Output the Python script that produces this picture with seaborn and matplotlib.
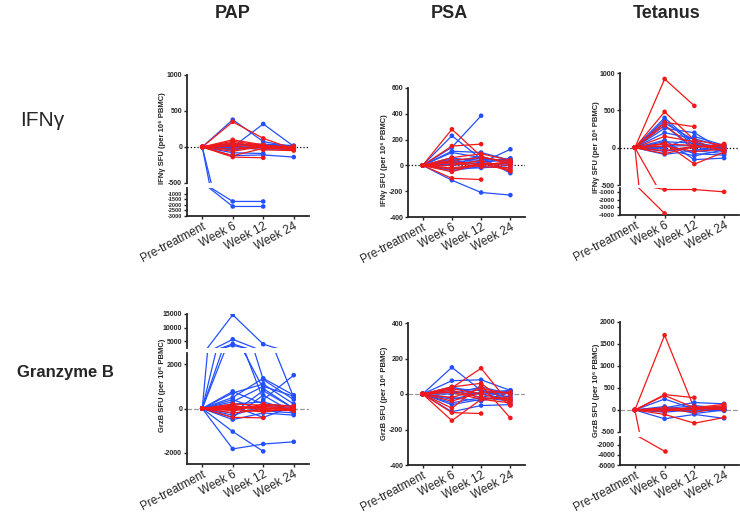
import numpy as np
import pandas as pd
import seaborn as sns
import matplotlib.pyplot as plt

sns.set_theme(style="ticks")
plt.rcParams["font.family"] = ["Liberation Sans", "DejaVu Sans"]

nan = np.nan
times = ["Pre-treatment", "Week 6", "Week 12", "Week 24"]
colors = {"Arm 1": "#F21818", "Arm 2": "#2350FF"}

# values per patient: pre-treatment, week 6, week 12, week 24 (change from baseline)
pap_ifn_red = [[0, 350, 120, -30], [0, 100, 30, -20], [0, 80, 20, -10], [0, 60, 10, -40],
               [0, 40, -10, -20], [0, 20, 20, 0], [0, -60, 10, -30], [0, -140, -150, nan],
               [0, -120, -20, -30], [0, -30, 0, 10], [0, 10, -40, -50]]
pap_ifn_blue = [[0, 380, 75, 0], [0, 0, 320, 10], [0, -1700, -1700, nan], [0, -2150, -2150, nan],
                [0, -120, -110, -140], [0, -80, -90, nan], [0, 30, 40, 20], [0, -20, 20, -10],
                [0, 10, -10, 0], [0, -40, 10, -20], [0, 50, 0, 10], [0, -10, -30, -30],
                [0, 20, 30, 5]]

psa_ifn_red = [[0, 280, 70, 10], [0, 150, 165, nan], [0, -100, -110, nan], [0, -50, 20, -45],
               [0, 40, 60, 30], [0, 20, -10, -20], [0, -20, 10, 20], [0, 0, 40, -40],
               [0, 60, 90, 40], [0, -30, 0, 30], [0, 30, 10, 0]]
psa_ifn_blue = [[0, 230, 50, 30], [0, 140, 385, nan], [0, 110, 100, 40], [0, 100, 60, -60],
                [0, -115, -210, -230], [0, 60, 20, 125], [0, 50, 40, 50], [0, 40, 0, 20],
                [0, 20, 30, 40], [0, -30, 10, 10], [0, -20, -20, 0], [0, 10, 60, 30],
                [0, 0, 20, 55], [0, -40, -10, -20], [0, 30, 70, 10]]

tet_ifn_red = [[0, 920, 560, nan], [0, 480, 100, 30], [0, 340, 280, nan], [0, 300, 0, 50],
               [0, 150, 80, -50], [0, 60, -220, -60], [0, -700, -700, -1000], [0, -3800, nan, nan],
               [0, 50, 30, -30], [0, -40, 20, 10], [0, 20, -50, -20], [0, -80, 10, 40]]
tet_ifn_blue = [[0, 400, 50, -20], [0, 370, 20, 0], [0, 330, 100, -60], [0, 300, -30, -10],
                [0, 260, 200, -40], [0, 200, 120, 10], [0, 100, -160, -140], [0, 50, -80, -100],
                [0, -90, -40, -80], [0, 20, 30, 20], [0, -50, 10, -50], [0, 80, 60, 10],
                [0, -20, -110, -30], [0, 0, 150, 30]]

pap_grzb_red = [[0, 200, 150, 50], [0, 150, -100, -50], [0, 100, 0, 0], [0, -100, 200, 100],
                [0, -200, -50, -100], [0, -400, -420, nan], [0, 50, 100, -30], [0, -50, -150, 0],
                [0, 0, 50, -100]]
pap_grzb_blue = [[0, 14700, 3900, 500], [0, 5700, 1300, 400], [0, 4000, 400, 1500], [0, 3500, 900, 0],
                 [0, 700, 1100, 200], [0, 500, 1360, 600], [0, 300, 1000, 550], [0, 770, 200, 100],
                 [0, -1040, -1930, nan], [0, -1820, -1600, -1500], [0, -500, -200, -300],
                 [0, -400, 600, -200], [0, 200, 300, -100], [0, -300, 100, 0], [0, 100, -400, 100],
                 [0, 400, -100, -200], [0, -200, 800, 0]]

psa_grzb_red = [[0, 35, 145, -60], [0, -150, -30, -20], [0, -105, -110, nan], [0, -80, 50, -135],
                [0, 40, 60, -65], [0, 20, -20, -30], [0, -20, 30, 0], [0, 30, 0, -40],
                [0, -40, 10, 10], [0, 10, -30, -50]]
psa_grzb_blue = [[0, 150, 20, 0], [0, 75, 80, 20], [0, -100, -65, -60], [0, -60, -30, -10],
                 [0, 40, 0, 10], [0, 30, 20, -20], [0, -30, 10, 20], [0, 20, -20, -40],
                 [0, 0, 40, 0], [0, -20, -40, 10], [0, 10, 0, -30], [0, -50, -20, 20]]

tet_grzb_red = [[0, 1700, 30, 80], [0, 350, 280, nan], [0, 330, 50, 130], [0, -3300, nan, nan],
                [0, -100, -300, -170], [0, 50, 20, 100], [0, 20, -50, 60], [0, -30, 80, 0],
                [0, 0, 10, 50]]
tet_grzb_blue = [[0, 250, 20, -20], [0, -200, -100, -190], [0, 50, 170, 140], [0, 80, -80, 0],
                 [0, 30, 100, 40], [0, 10, -30, 20], [0, -20, 50, -10], [0, 0, 0, 30],
                 [0, 40, 20, 60], [0, -50, 10, 10]]

W, H = 740, 513
fig = plt.figure(figsize=(W / 100, H / 100), dpi=100)


def to_long(red, blue):
    rows = []
    for grp, series in (("Arm 2", blue), ("Arm 1", red)):
        for pid, vals in enumerate(series):
            for i, v in enumerate(vals):
                rows.append({"group": grp, "patient": f"{grp}-{pid}", "time": i, "value": v})
    return pd.DataFrame(rows).dropna()


def add_ax(x0, x1, y0, y1):
    return fig.add_axes([x0 / W, 1 - y1 / H, (x1 - x0) / W, (y1 - y0) / H])


def style(ax, ylim, yticks, bottom=True, fs=5):
    ax.set_xlim(-0.5, 3.5)
    ax.set_ylim(*ylim)
    ax.set_yticks(yticks)
    ax.set_yticklabels([str(t) for t in yticks], fontsize=fs, fontweight="bold")
    ax.set_xlabel("")
    ax.set_ylabel("")
    sns.despine(ax=ax)
    for s in ax.spines.values():
        s.set_linewidth(1.3)
    ax.tick_params(length=2.5, width=1, pad=1)
    if bottom:
        ax.set_xticks(range(4))
        ax.set_xticklabels(times, rotation=28, ha="right", rotation_mode="anchor", fontsize=8.5)
    else:
        ax.spines["bottom"].set_visible(False)
        ax.set_xticks([])


def draw(ax, df, ylim, zero):
    sns.lineplot(data=df, x="time", y="value", hue="group", units="patient", estimator=None,
                 palette=colors, linewidth=0.9, legend=False, ax=ax)
    inside = df[(df["value"] >= ylim[0]) & (df["value"] <= ylim[1])]
    sns.scatterplot(data=inside, x="time", y="value", hue="group", palette=colors,
                    s=11, linewidth=0, legend=False, ax=ax, zorder=3)
    if zero == "dot":
        ax.axhline(0, color="black", linestyle=":", linewidth=0.9, zorder=0)
    elif zero == "dash":
        ax.axhline(0, color="#999999", linestyle="--", linewidth=0.9, zorder=0)


def panel(df, x0, x1, segs, zero):
    # segs: (y0, y1, ylim, yticks, tick fontsize), top to bottom
    for k, (y0, y1, ylim, yticks, fs) in enumerate(segs):
        ax = add_ax(x0, x1, y0, y1)
        draw(ax, df, ylim, zero if ylim[0] <= 0 <= ylim[1] else None)
        style(ax, ylim, yticks, bottom=(k == len(segs) - 1), fs=fs)


PAP = (187, 309)
PSA = (408, 525)
TET = (620, 739)

panel(to_long(pap_ifn_red, pap_ifn_blue), *PAP,
      [(75, 183, (-500, 1000), [-500, 0, 500, 1000], 5),
       (188, 216, (-3000, -500), [-1000, -1500, -2000, -2500, -3000], 4)], "dot")
panel(to_long(psa_ifn_red, psa_ifn_blue), *PSA,
      [(88, 217, (-400, 600), [-400, -200, 0, 200, 400, 600], 5)], "dot")
panel(to_long(tet_ifn_red, tet_ifn_blue), *TET,
      [(73, 185, (-500, 1000), [-500, 0, 500, 1000], 5),
       (188, 215, (-4000, -500), [-1000, -2000, -3000, -4000], 4.5)], "dot")
panel(to_long(pap_grzb_red, pap_grzb_blue), *PAP,
      [(314, 348, (2500, 15000), [5000, 10000, 15000], 5),
       (353, 464, (-2500, 2500), [-2000, 0, 2000], 5)], "dash")
panel(to_long(psa_grzb_red, psa_grzb_blue), *PSA,
      [(323, 465, (-400, 400), [-400, -200, 0, 200, 400], 5)], "dash")
panel(to_long(tet_grzb_red, tet_grzb_blue), *TET,
      [(322, 432, (-500, 2000), [-500, 0, 500, 1000, 1500, 2000], 5),
       (437, 465, (-6000, -500), [-2000, -4000, -6000], 5)], "dash")

# y labels
ifn_lab = "IFNγ SFU (per 10⁶ PBMC)"
grz_lab = "GrzB SFU (per 10⁶ PBMC)"
for x, y, lab in [(163, 138, ifn_lab), (385, 160, ifn_lab), (597, 147, ifn_lab),
                  (163, 385, grz_lab), (385, 393, grz_lab), (597, 390, grz_lab)]:
    fig.text(x / W, 1 - y / H, lab, rotation=90, fontsize=5.5, fontweight="bold",
             ha="center", va="center")

# column and row titles
for x, t in [(233, "PAP"), (449, "PSA"), (667, "Tetanus")]:
    fig.text(x / W, 1 - 14 / H, t, fontsize=13, fontweight="bold", ha="center", va="center")
fig.text(42 / W, 1 - 121 / H, "IFNγ", fontsize=15, ha="center", va="center")
fig.text(65 / W, 1 - 372 / H, "Granzyme B", fontsize=12, fontweight="bold", ha="center", va="center")

fig.savefig("out.png", dpi=100)
